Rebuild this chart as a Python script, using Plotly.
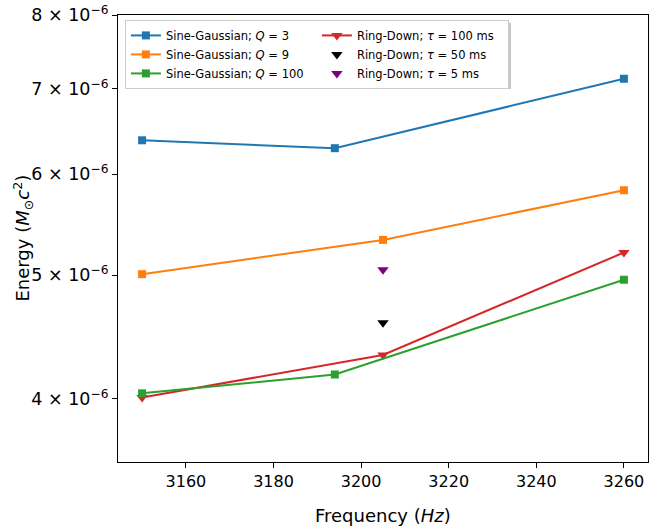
import plotly.graph_objects as go
import math

# Data
freq_sg = [3150, 3194, 3260]
sg_q3 = [6.38e-6, 6.29e-6, 7.13e-6]
sg_q100 = [4.04e-6, 4.18e-6, 4.96e-6]
freq_sg9 = [3150, 3205, 3260]
sg_q9 = [5.01e-6, 5.33e-6, 5.83e-6]
freq_rd = [3150, 3205, 3260]
rd_100 = [4.01e-6, 4.33e-6, 5.21e-6]
freq_rd_single = [3205]
rd_50 = [4.59e-6]
rd_5 = [5.05e-6]

ytick_vals = [4e-6, 5e-6, 6e-6, 7e-6, 8e-6]
ytick_text = ["4 × 10<sup>−6</sup>", "5 × 10<sup>−6</sup>", "6 × 10<sup>−6</sup>",
              "7 × 10<sup>−6</sup>", "8 × 10<sup>−6</sup>"]
xtick_vals = [3160, 3180, 3200, 3220, 3240, 3260]

BLUE, ORANGE, GREEN, RED = "#1f77b4", "#ff7f0e", "#2ca02c", "#d62728"

fig = go.Figure()
sq = dict(symbol="square", size=8)
tri = dict(symbol="triangle-down", size=10)

# order for horizontal legend: row-wise
fig.add_trace(go.Scatter(x=freq_sg, y=sg_q3, mode="lines+markers", name="Sine-Gaussian; <i>Q</i> = 3",
                         line=dict(color=BLUE, width=2), marker=dict(color=BLUE, **sq)))
fig.add_trace(go.Scatter(x=freq_rd, y=rd_100, mode="lines+markers", name="Ring-Down; <i>τ</i> = 100 ms",
                         line=dict(color=RED, width=2), marker=dict(color=RED, **tri)))
fig.add_trace(go.Scatter(x=freq_sg9, y=sg_q9, mode="lines+markers", name="Sine-Gaussian; <i>Q</i> = 9",
                         line=dict(color=ORANGE, width=2), marker=dict(color=ORANGE, **sq)))
fig.add_trace(go.Scatter(x=freq_rd_single, y=rd_50, mode="markers", name="Ring-Down; <i>τ</i> = 50 ms",
                         marker=dict(color="black", **tri)))
fig.add_trace(go.Scatter(x=freq_sg, y=sg_q100, mode="lines+markers", name="Sine-Gaussian; <i>Q</i> = 100",
                         line=dict(color=GREEN, width=2), marker=dict(color=GREEN, **sq)))
fig.add_trace(go.Scatter(x=freq_rd_single, y=rd_5, mode="markers", name="Ring-Down; <i>τ</i> = 5 ms",
                         marker=dict(color="#800080", **tri)))

font = "DejaVu Sans"
fig.update_layout(
    width=659, height=527,
    margin=dict(l=118, r=11, t=15, b=65),
    paper_bgcolor="white", plot_bgcolor="white",
    font=dict(family=font, size=16, color="black"),
    showlegend=True,
    legend=dict(orientation="h", x=0.013, y=0.989, xanchor="left", yanchor="top",
                entrywidth=146, traceorder="normal",
                bgcolor="white", bordercolor="#cccccc", borderwidth=1,
                font=dict(family=font, size=11.5), tracegroupgap=0, itemwidth=30),
    xaxis=dict(range=[3144.5, 3265.5], tickvals=xtick_vals, showgrid=False, zeroline=False,
               showline=True, linecolor="black", linewidth=1, mirror=True,
               ticks="outside", ticklen=5, tickcolor="black", automargin=False),
    yaxis=dict(type="log", range=[math.log10(3.569e-6), math.log10(8.0001e-6)],
               tickvals=ytick_vals, ticktext=ytick_text, showgrid=False, zeroline=False,
               showline=True, linecolor="black", linewidth=1, mirror=True,
               ticks="outside", ticklen=5, tickcolor="black", automargin=False,
               ticklabeloverflow="allow", tickfont=dict(size=17.5)),
    annotations=[
        dict(text="Frequency (<i>Hz</i>)", xref="paper", yref="paper", x=0.5, y=-0.1186,
             xanchor="center", yanchor="middle", showarrow=False, font=dict(size=18)),
        dict(text="Energy (<i>M</i><sub>⊙</sub><i>c</i><sup>2</sup>)", xref="paper", yref="paper",
             x=-0.181, y=0.5, xanchor="center", yanchor="middle", textangle=-90,
             showarrow=False, font=dict(size=18)),
    ],
    shapes=[
        dict(type="rect", xref="paper", yref="paper",
             x0=(128 - 118) / 530, x1=(511 - 118) / 530,
             y0=(462 - 89) / 447, y1=(462 - 23) / 447,
             fillcolor="rgba(0,0,0,0.22)", line=dict(width=0), layer="above"),
    ],
)

fig.write_html("out.html", post_script="document.body.style.margin='0';",
               config={"displayModeBar": False})
